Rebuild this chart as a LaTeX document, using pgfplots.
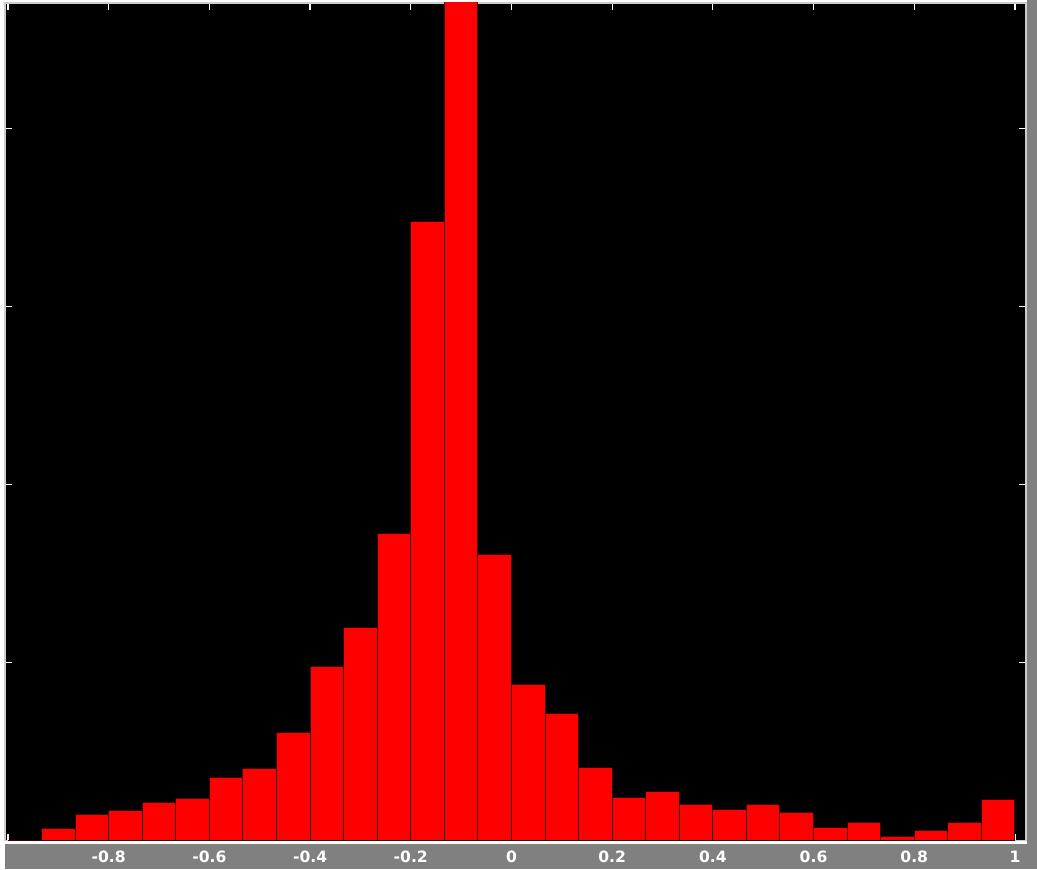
\documentclass[border=0pt]{standalone}
\usepackage{pgfplots}
\pgfplotsset{compat=1.18}
\usepackage{fontspec}
\newfontfamily\dejabold{DejaVu Sans}[BoldFont=* Bold]
\definecolor{stripgray}{RGB}{128,128,128}
\definecolor{axline}{RGB}{205,205,205}
\begin{document}
\begin{tikzpicture}
\useasboundingbox (0,0) rectangle (518.5pt,434.5pt);
\fill[white] (0,0) rectangle (518.5pt,434.5pt);
\fill[stripgray] (2.5pt,0) rectangle (518.5pt,12.5pt);
\fill[stripgray] (513.5pt,0) rectangle (518.5pt,434.5pt);
\begin{axis}[
  at={(2.5pt,14.25pt)}, anchor=south west,
  scale only axis, width=510.5pt, height=418.75pt,
  xmin=-1.006, xmax=1.022, ymin=0, ymax=4.705,
  axis background/.style={fill=black},
  axis line style={axline, line width=0.8pt},
  xtick={-1,-0.8,-0.6,-0.4,-0.2,0,0.2,0.4,0.6,0.8,1},
  xticklabels={,-0.8,-0.6,-0.4,-0.2,0,0.2,0.4,0.6,0.8,1},
  ytick={0,1,2,3,4}, yticklabels={},
  tick style={white, line width=0.6pt},
  major tick length=3.5pt,
  xticklabel style={anchor=center, yshift=-8.25pt, text=white, font=\dejabold\bfseries\fontsize{7.8}{8}\selectfont},
  clip=true,
]
\addplot[ybar interval, fill=red, draw=black!80!red, line width=0.5pt] coordinates {
(-1.0000,0)
(-0.9333,0.066)
(-0.8667,0.147)
(-0.8000,0.166)
(-0.7333,0.215)
(-0.6667,0.237)
(-0.6000,0.353)
(-0.5333,0.402)
(-0.4667,0.608)
(-0.4000,0.976)
(-0.3333,1.198)
(-0.2667,1.723)
(-0.2000,3.477)
(-0.1333,4.900)
(-0.0667,1.608)
(0.0000,0.878)
(0.0667,0.715)
(0.1333,0.410)
(0.2000,0.239)
(0.2667,0.278)
(0.3333,0.205)
(0.4000,0.173)
(0.4667,0.205)
(0.5333,0.156)
(0.6000,0.074)
(0.6667,0.100)
(0.7333,0.025)
(0.8000,0.057)
(0.8667,0.100)
(0.9333,0.230)
(1.0000,0.230)
};
\end{axis}
\end{tikzpicture}
\end{document}
